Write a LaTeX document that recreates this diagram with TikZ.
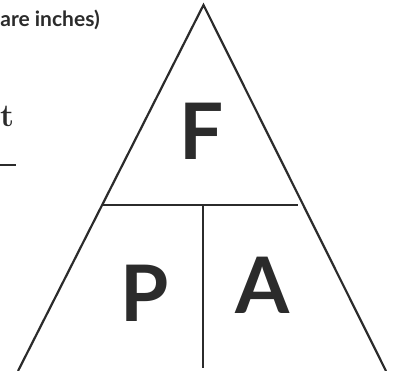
\documentclass[tikz,border=0pt]{standalone}
\usepackage{fontspec}
\newfontfamily\trifont{Lato}
\usetikzlibrary{positioning}
\definecolor{ink}{HTML}{2B2B2B}

\begin{document}
\begin{tikzpicture}[
    x=1pt, y=-1pt,
    edge/.style={draw=ink, line width=2.2pt},
    letter/.style={text=ink, inner sep=0pt,
      font=\trifont\fontsize{78}{78}\selectfont\bfseries},
    note/.style={text=ink, inner sep=0pt, anchor=base east,
      font=\trifont\fontsize{21}{24}\selectfont\bfseries},
  ]
  \useasboundingbox (0,0) rectangle (393,371);

  % Triangle corners
  \coordinate (apex)   at (203.5,5);
  \coordinate (lfoot)  at (18,371);
  \coordinate (rfoot)  at (386,371);

  % Dividers
  \coordinate (mleft)  at (103,205);
  \coordinate (mright) at (298,205);
  \coordinate (mmid)   at (203,205);
  \coordinate (mbot)   at (203,368);

  % Fraction bar on the left
  \coordinate (bar0) at (-2,165);
  \coordinate (bar1) at (16,165);

  % Edges
  \draw[edge, line join=miter] (lfoot) -- (apex) -- (rfoot);
  \draw[edge] (mleft) -- (mright);
  \draw[edge] (mmid)  -- (mbot);
  \draw[edge] (bar0)  -- (bar1);

  % Letters
  \node[letter] (force) at (201.5,131) {F};
  \node[letter] (press) at (144.5,293) {P};
  \node[letter] (area)  at (263,285.5) {A};

  % Text on the left
  \node[note] (units) at (100,27) {are inches)};
  \node[text=ink, inner sep=0pt, anchor=base west,
        font=\fontsize{32}{34}\selectfont\bfseries] (tail) at (0,127) {t};

\end{tikzpicture}
\end{document}
